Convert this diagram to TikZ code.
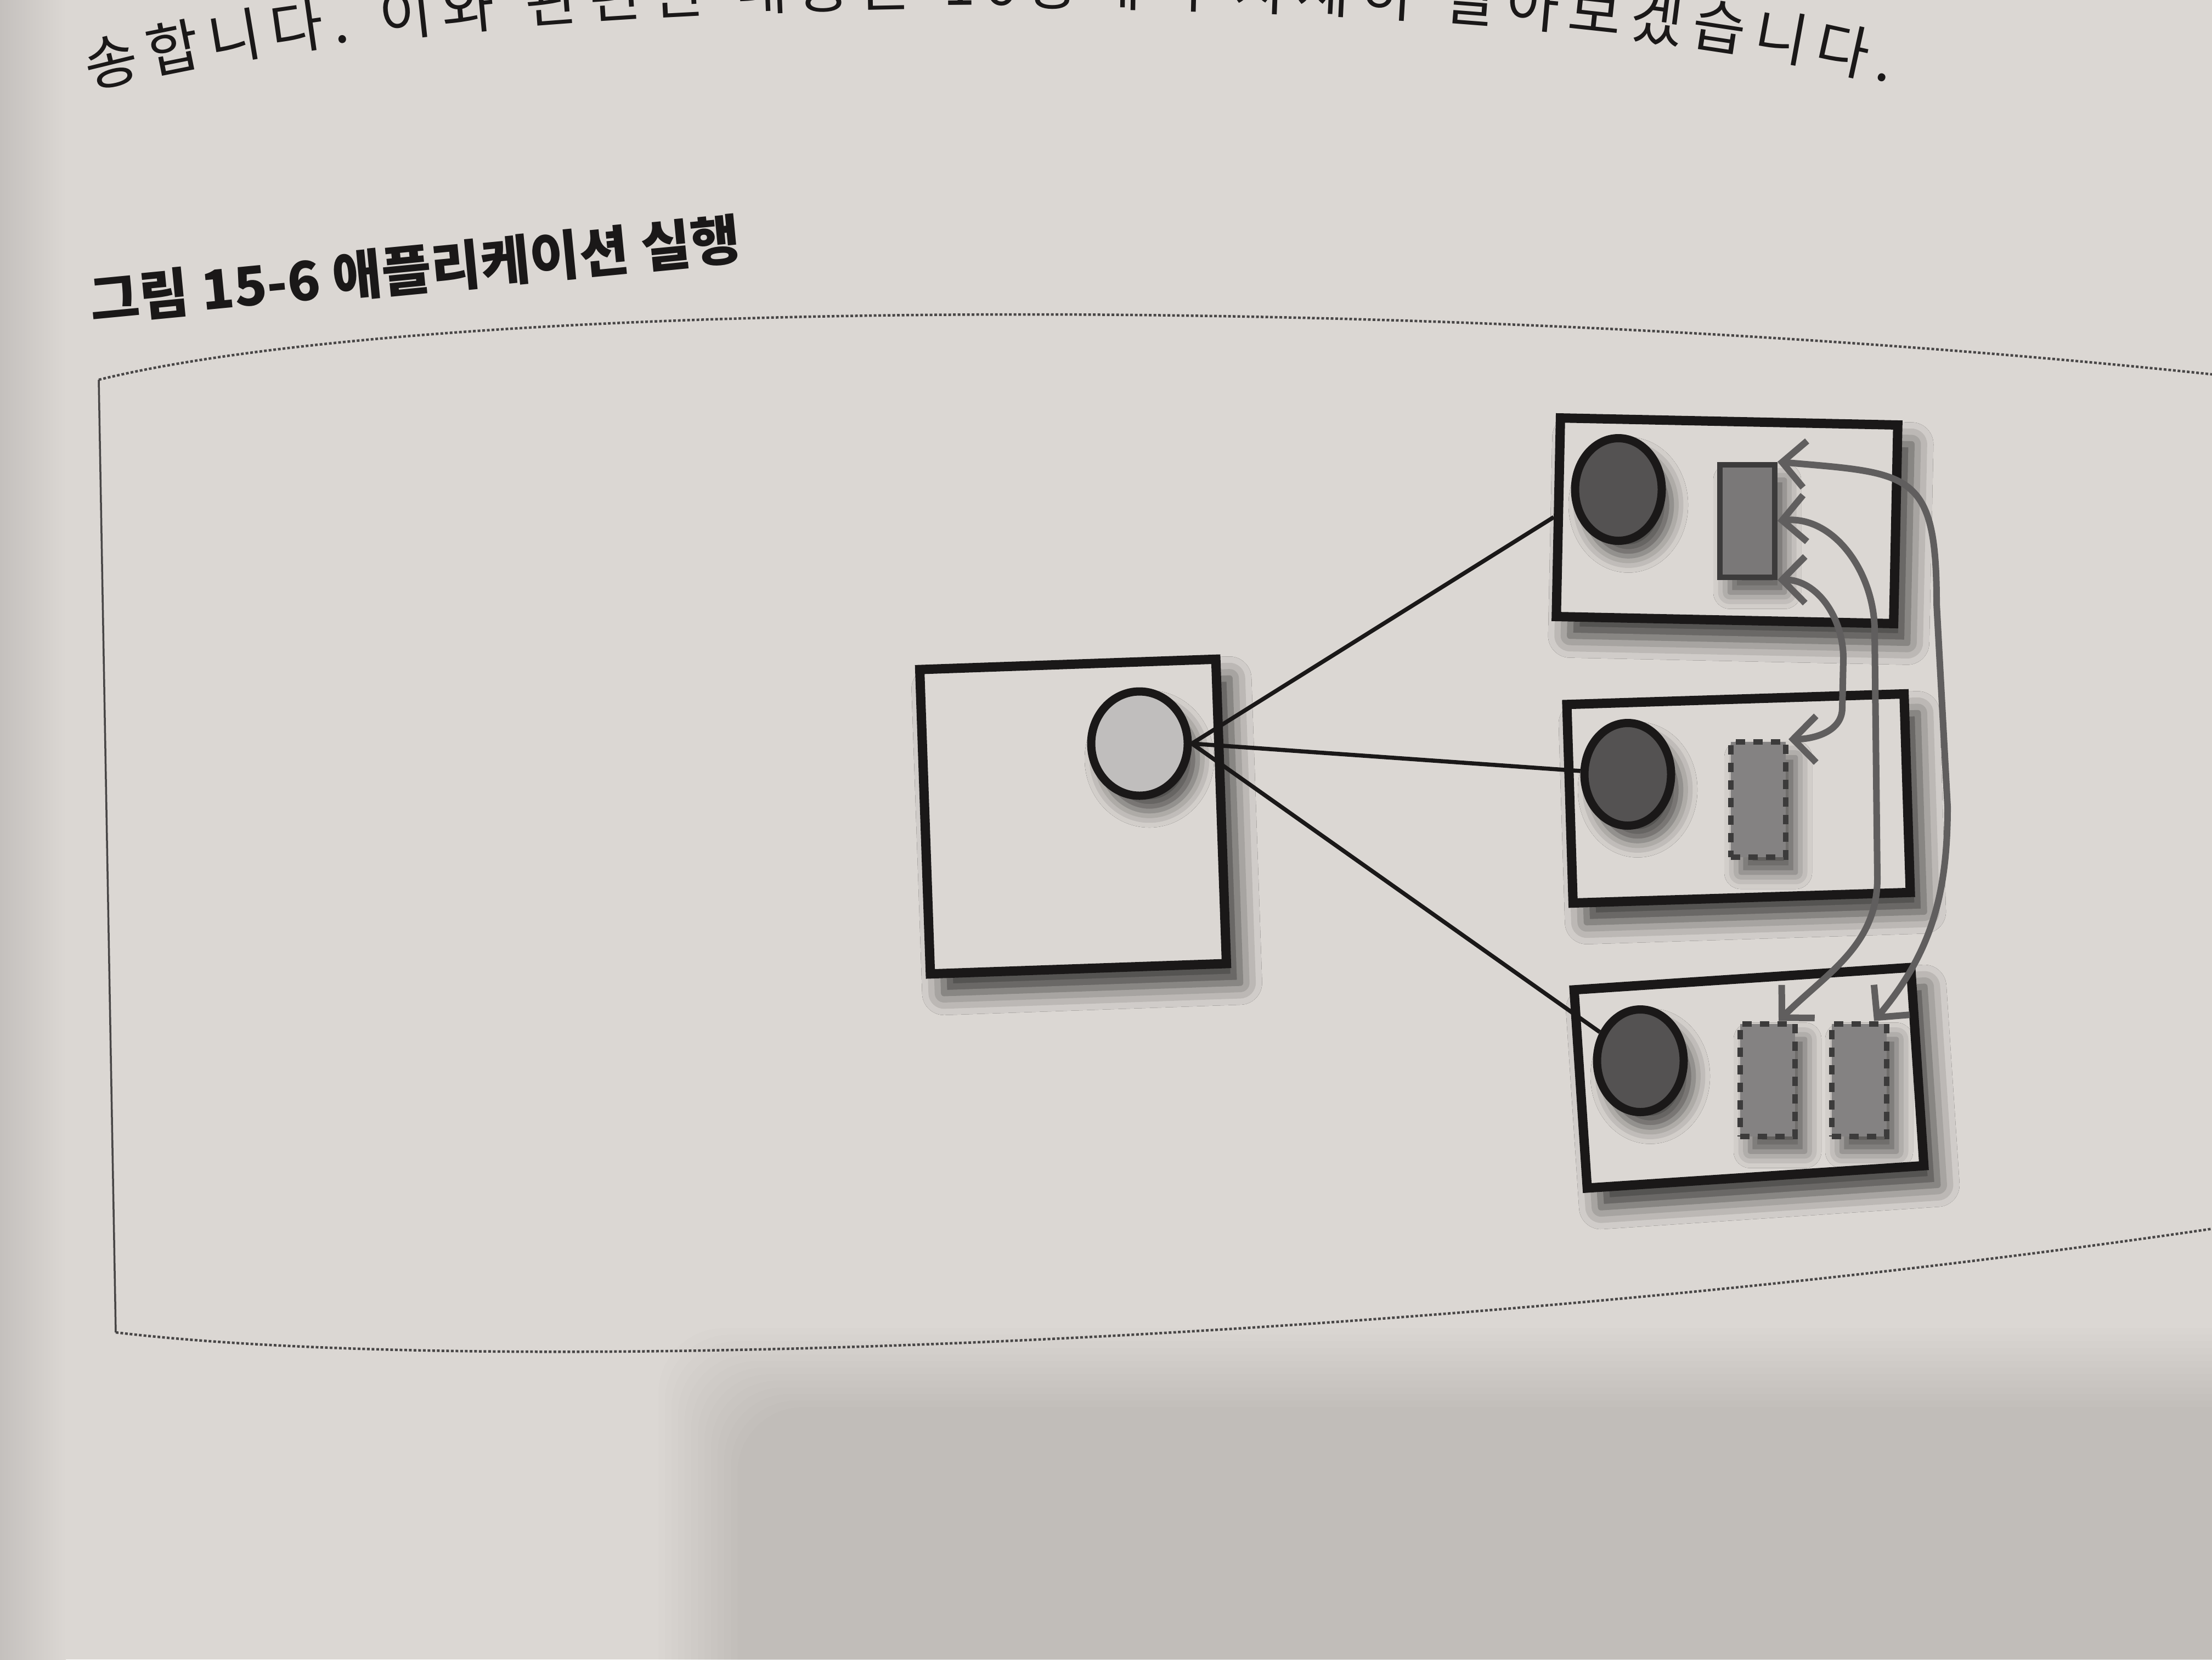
\documentclass[tikz,border=0pt]{standalone}
\usepackage{fontspec}
\newfontfamily\cjk{Noto Sans CJK KR}
\usetikzlibrary{shapes.geometric,positioning,arrows.meta,decorations.text,shadows.blur}
\definecolor{paper}{RGB}{219,215,211}
\definecolor{paperdark}{RGB}{196,192,189}
\definecolor{ink}{RGB}{26,24,24}
\definecolor{darkcore}{RGB}{84,82,82}
\definecolor{lightcore}{RGB}{192,190,189}
\definecolor{taskgray}{RGB}{122,120,120}
\definecolor{ghostgray}{RGB}{132,130,130}
\definecolor{flowgray}{RGB}{96,94,94}
\definecolor{frameink}{RGB}{72,70,70}

\begin{document}
\begin{tikzpicture}[
    exbox/.style={draw=ink, line width=0.17cm, fill=paper, minimum width=6.15cm, minimum height=3.62cm,
        blur shadow={shadow xshift=0.25cm, shadow yshift=-0.35cm, shadow blur radius=0.4cm, shadow opacity=75}},
    core/.style={ellipse, draw=ink, line width=0.15cm, fill=darkcore, minimum width=1.58cm, minimum height=1.87cm, inner sep=0pt,
        blur shadow={shadow xshift=0.18cm, shadow yshift=-0.28cm, shadow blur radius=0.3cm, shadow opacity=65}},
    task/.style={draw=ink!85, line width=0.1cm, fill=taskgray, minimum width=1.0cm, minimum height=2.05cm, inner sep=0pt,
        blur shadow={shadow xshift=0.18cm, shadow yshift=-0.28cm, shadow blur radius=0.3cm, shadow opacity=60}},
    ghost/.style={task, dash pattern=on 0.17cm off 0.15cm, fill=ghostgray},
    link/.style={draw=ink, line width=0.075cm},
    flow/.style={draw=flowgray, line width=0.12cm, >={Straight Barb[length=0.42cm,width=0.85cm]}, <->}
]
\useasboundingbox (0,0) rectangle (40.32,-30.24);
\clip (0,0) rectangle (40.32,-30.24);

% Page
\fill[paper] (0,0) rectangle (40.32,-30.24);
\shade[left color=paperdark, right color=paper] (0,0) rectangle (1.2,-30.24);
\foreach \d in {0,0.12,...,1.44}
    \fill[black, opacity=0.0065, rounded corners=1.2cm] (12.0+\d,-24.2-\d) rectangle (42,-32);

% Text on the page
\path[decorate, decoration={text along path, text color=ink,
    text={|\cjk\fontsize{30pt}{30pt}\selectfont|송합니다. 이와 관련된 내용은 16장에서 자세히 알아보겠습니다.},
    text align={fit to path}}]
    (1.65,-1.62) .. controls (9,0.35) and (27,0.45) .. (34.4,-1.5);
\node[font=\cjk\bfseries\fontsize{28pt}{30pt}\selectfont, text=ink, anchor=base west, rotate=5.5, inner sep=0pt] (caption) at (1.67,-5.85) {그림 15-6 애플리케이션 실행};

% Figure frame
\draw[frameink, line width=0.035cm] (1.80,-6.92) -- (2.11,-24.28);
\draw[frameink, line width=0.045cm, dash pattern=on 0.05cm off 0.035cm] (1.80,-6.92) .. controls (8,-5.4) and (26,-5.3) .. (40.4,-6.83);
\draw[frameink, line width=0.045cm, dash pattern=on 0.05cm off 0.035cm] (2.11,-24.28) .. controls (9,-25.1) and (26,-24.5) .. (40.4,-22.38);

% Driver
\node[exbox, minimum width=5.4cm, minimum height=5.55cm, rotate=2] (drv) at (19.56,-14.88) {};
\node[core, fill=lightcore, minimum width=1.76cm, minimum height=1.9cm] (drvcore) at (20.77,-13.55) {};

% Executors
\node[exbox, rotate=-1.2] (ex1) at (31.48,-9.49) {};
\node[exbox, rotate=1.8] (ex2) at (31.69,-14.55) {};
\node[exbox, rotate=3.8] (ex3) at (31.88,-19.64) {};

\node[core] (ex1core) at (29.50,-8.92) {};
\node[core] (ex2core) at (29.67,-14.11) {};
\node[core] (ex3core) at (29.90,-19.33) {};

% Tasks
\node[task] (tk1) at (31.85,-9.49) {};
\node[ghost, minimum height=2.1cm] (tk2) at (32.05,-14.57) {};
\node[ghost] (tk3a) at (32.22,-19.68) {};
\node[ghost, right=0.57cm of tk3a] (tk3b) {};

% Driver to executors
\draw[link] (drvcore.east) -- (ex1.west);
\draw[link] (drvcore.east) -- (ex2core);
\draw[link] (drvcore.east) -- (ex3core);

% Data moving between tasks
\draw[flow] (tk1.north east) to[out=-5, in=90, looseness=1.6] (35.3,-11.0) -- (35.5,-14.7) to[out=-90, in=50] ([xshift=-0.28cm]tk3b.north east);
\draw[flow] (tk1.east) to[out=5, in=90] (34.17,-11.5) -- (34.22,-16.0) to[out=-90, in=45] ([xshift=0.2cm]tk3a.north);
\draw[flow] (tk1.south east) to[out=0, in=90] (33.6,-12.0) -- (33.58,-12.9) to[out=-90, in=0] (tk2.north east);

\end{tikzpicture}
\end{document}
